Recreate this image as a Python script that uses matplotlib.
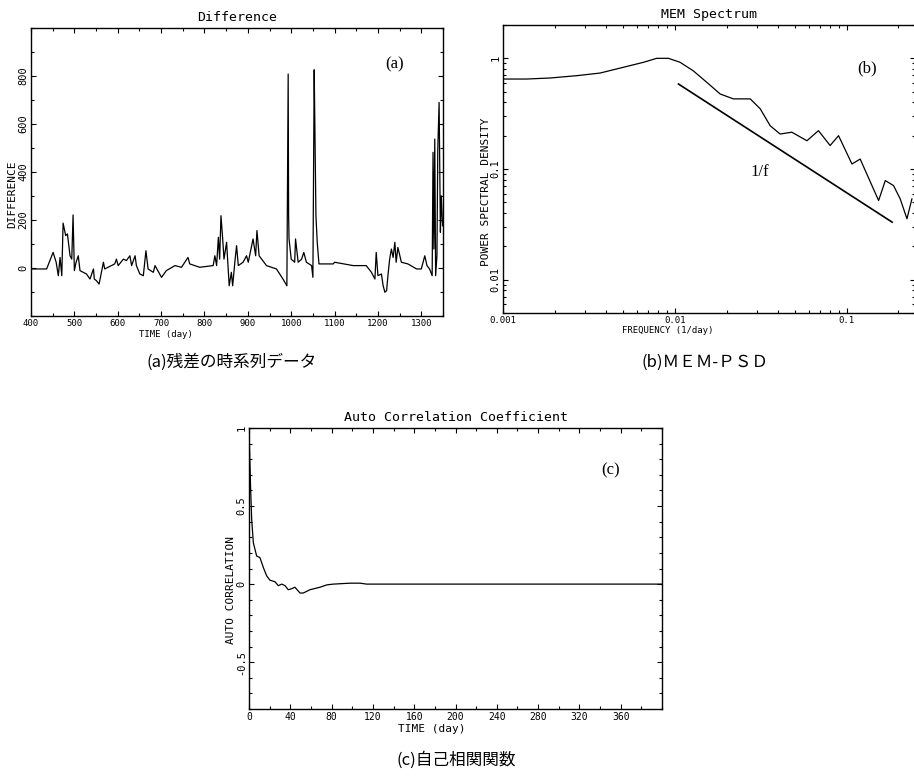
import matplotlib
matplotlib.use('Agg')
import matplotlib.pyplot as plt
from matplotlib.ticker import MultipleLocator, FixedLocator, FixedFormatter, LogLocator, NullFormatter

# ---------------- data ----------------
# (a) residual time series
a_day = [401, 436, 451, 458, 463, 467, 471, 474, 480, 484, 490, 494, 497, 500, 504, 509, 513,
         528, 536, 544, 546, 551, 557, 567, 570, 593, 597, 601, 613, 620, 628, 632, 640, 643,
         651, 659, 665, 670, 682, 686, 701, 712, 732, 747, 762, 766, 789, 820, 824, 828, 832,
         835, 838, 842, 845, 851, 857, 862, 865, 870, 874, 878, 889, 897, 901, 912, 918, 921,
         926, 943, 966, 981, 990, 993, 994, 995, 1000, 1008, 1010, 1016, 1024, 1029, 1035,
         1047, 1050, 1053, 1054, 1057, 1060, 1064, 1097, 1100, 1143, 1173, 1185, 1193, 1196,
         1200, 1208, 1212, 1216, 1220, 1223, 1227, 1231, 1235, 1239, 1242, 1246, 1254, 1269,
         1289, 1300, 1308, 1313, 1319, 1325, 1327, 1329, 1331, 1333, 1336, 1338, 1341, 1344,
         1346, 1349]
a_val = [-4, -4, 65, 24, -32, 44, -32, 187, 135, 142, 51, 37, 221, -11, 24, 51, -11,
         -25, -46, -4, -46, -53, -67, 24, -4, 17, 37, 10, 37, 31, 51, 10, 51, 10,
         -25, -32, 72, -4, -18, 10, -39, -11, 10, 3, 44, 17, 3, 10, 51, 10, 128,
         37, 218, 121, 37, 107, -74, -18, -74, 24, 93, 10, 24, 51, 24, 121, 51, 156,
         51, 10, -4, -46, -74, 808, 218, 121, 37, 24, 121, 24, 37, 65, 24,
         10, -39, 826, 676, 218, 107, 17, 17, 24, 10, 10, -18, -46, 65,
         -32, -25, -74, -101, -94, -32, 37, 79, 44, 107, 24, 86, 24, 17,
         -4, -4, 51, 10, -4, -32, 482, 79, 537, -32, 51, 496, 690, 149,
         301, 176]

# (b) MEM power spectral density
b_freq = [0.00102, 0.00137, 0.00188, 0.00269, 0.00367, 0.00502, 0.00656, 0.00785, 0.00918,
          0.01074, 0.01282, 0.01535, 0.01837, 0.02193, 0.02748, 0.03141, 0.03589, 0.04102,
          0.04797, 0.05875, 0.06855, 0.08017, 0.08974, 0.1074, 0.1199, 0.1535, 0.1679,
          0.1875, 0.2051, 0.2244, 0.2399]
b_psd = [0.65, 0.65, 0.664, 0.697, 0.736, 0.83, 0.92, 1.0, 1.0,
         0.92, 0.77, 0.607, 0.476, 0.43, 0.43, 0.35, 0.246, 0.207,
         0.215, 0.18, 0.222, 0.163, 0.20, 0.111, 0.123, 0.0519, 0.0786,
         0.0708, 0.0537, 0.0355, 0.0537]
# 1/f reference line end points
b_ref_freq = [0.0105, 0.184]
b_ref_psd = [0.586, 0.0331]

# (c) auto-correlation coefficient
c_lag = [0, 1.6, 2.6, 4.2, 7.4, 10.6, 13.9, 17.1, 20.3, 25.2, 28.4, 31.7, 34.9, 38, 41.2,
         44.5, 49.4, 52.6, 59, 68.8, 75.3, 81.6, 97.8, 107.5, 114, 150, 200, 250, 300, 350, 400]
c_acf = [1.0, 0.605, 0.414, 0.265, 0.18, 0.17, 0.106, 0.053, 0.025, 0.015, -0.01, 0.0, -0.01,
         -0.036, -0.03, -0.02, -0.057, -0.057, -0.036, -0.02, -0.005, 0.0, 0.006, 0.006, 0.0,
         0.0, 0.0, 0.0, 0.0, 0.0, 0.0]

a_xticks = [400, 500, 600, 700, 800, 900, 1000, 1100, 1200, 1300]
a_yticks = [0, 200, 400, 600, 800]
b_xticks = [0.001, 0.01, 0.1]
b_xticklabels = ['0.001', '0.01', '0.1']
b_yticks = [0.01, 0.1, 1]
b_yticklabels = ['0.01', '0.1', '1']
c_xticks = [0, 40, 80, 120, 160, 200, 240, 280, 320, 360]
c_yticks = [-0.5, 0, 0.5, 1]
c_yticklabels = ['-0.5', '0', '0.5', '1']

# ---------------- figure ----------------
W, H = 914, 781
fig = plt.figure(figsize=(W / 100, H / 100), dpi=100)
fig.patch.set_facecolor('white')

MONO = 'DejaVu Sans Mono'
SERIF = 'Liberation Serif'
CJK = ['Noto Sans CJK JP', 'DejaVu Sans']


def box(l, t, r, b):
    return [l / W, 1 - b / H, (r - l) / W, (b - t) / H]


def style(ax):
    for s in ax.spines.values():
        s.set_linewidth(1.0)
        s.set_color('black')
    ax.tick_params(which='both', direction='in', top=True, right=True,
                   width=0.8, colors='black', pad=2)
    ax.tick_params(which='major', length=3.5)
    ax.tick_params(which='minor', length=2.5)
    ax.tick_params(axis='y', labelrotation=90)
    for lab in ax.get_yticklabels():
        lab.set_va('center')
    for lab in ax.get_xticklabels() + ax.get_yticklabels():
        lab.set_fontfamily(MONO)


# ---- (a) ----
axa = fig.add_axes(box(31, 28, 443, 316))
axa.plot(a_day, a_val, color='black', lw=0.9)
axa.set_xlim(400, 1350)
axa.set_ylim(-200, 1000)
axa.xaxis.set_major_locator(FixedLocator(a_xticks))
axa.xaxis.set_minor_locator(MultipleLocator(50))
axa.yaxis.set_major_locator(FixedLocator(a_yticks))
axa.yaxis.set_minor_locator(MultipleLocator(100))
axa.tick_params(axis='x', labelsize=6.5)
axa.tick_params(axis='y', labelsize=7.5)
style(axa)
axa.set_title('Difference', fontfamily=MONO, fontsize=9.5, pad=5)
axa.set_xlabel('TIME (day)', fontfamily=MONO, fontsize=6.5, va='center')
axa.xaxis.set_label_coords(0.328, -0.064)
axa.set_ylabel('DIFFERENCE', fontfamily=MONO, fontsize=8, va='center')
axa.yaxis.set_label_coords(-0.046, 0.424)
axa.text(1239, 850, '(a)', fontfamily=SERIF, fontsize=12, ha='center', va='center')

# ---- (b) ----
axb = fig.add_axes(box(503, 25, 915, 313))
axb.set_xscale('log')
axb.set_yscale('log')
axb.plot(b_freq, b_psd, color='black', lw=0.9)
axb.plot(b_ref_freq, b_ref_psd, color='black', lw=1.2)
axb.set_xlim(0.001, 0.25)
axb.set_ylim(0.005, 2)
axb.xaxis.set_major_locator(FixedLocator(b_xticks))
axb.xaxis.set_major_formatter(FixedFormatter(b_xticklabels))
axb.xaxis.set_minor_locator(LogLocator(base=10, subs=range(2, 10)))
axb.xaxis.set_minor_formatter(NullFormatter())
axb.yaxis.set_major_locator(FixedLocator(b_yticks))
axb.yaxis.set_major_formatter(FixedFormatter(b_yticklabels))
axb.yaxis.set_minor_locator(LogLocator(base=10, subs=range(2, 10)))
axb.yaxis.set_minor_formatter(NullFormatter())
axb.tick_params(axis='x', labelsize=6.5)
axb.tick_params(axis='y', labelsize=7.5)
style(axb)
axb.set_title('MEM Spectrum', fontfamily=MONO, fontsize=9.5, pad=5)
axb.set_xlabel('FREQUENCY (1/day)', fontfamily=MONO, fontsize=6.5, va='center')
axb.xaxis.set_label_coords(0.40, -0.062)
axb.set_ylabel('POWER SPECTRAL DENSITY', fontfamily=MONO, fontsize=8, va='center')
axb.yaxis.set_label_coords(-0.041, 0.42)
axb.text(0.0314, 0.0935, '1/f', fontfamily=SERIF, fontsize=12, ha='center', va='center')
axb.text(0.131, 0.81, '(b)', fontfamily=SERIF, fontsize=12, ha='center', va='center')

# ---- (c) ----
axc = fig.add_axes(box(249, 428, 662, 709))
axc.plot(c_lag, c_acf, color='black', lw=0.9)
axc.set_xlim(0, 400)
axc.set_ylim(-0.8, 1)
axc.xaxis.set_major_locator(FixedLocator(c_xticks))
axc.xaxis.set_minor_locator(MultipleLocator(20))
axc.yaxis.set_major_locator(FixedLocator(c_yticks))
axc.yaxis.set_major_formatter(FixedFormatter(c_yticklabels))
axc.yaxis.set_minor_locator(MultipleLocator(0.1))
axc.tick_params(axis='x', labelsize=7)
axc.tick_params(axis='y', labelsize=7.5)
style(axc)
axc.set_title('Auto Correlation Coefficient', fontfamily=MONO, fontsize=9.5, pad=5)
axc.set_xlabel('TIME (day)', fontfamily=MONO, fontsize=8, va='center')
axc.xaxis.set_label_coords(0.443, -0.072)
axc.set_ylabel('AUTO CORRELATION', fontfamily=MONO, fontsize=8, va='center')
axc.yaxis.set_label_coords(-0.043, 0.423)
axc.text(350, 0.73, '(c)', fontfamily=SERIF, fontsize=12, ha='center', va='center')

# ---- captions ----
fig.text(232 / W, 1 - 362 / H, '(a)残差の時系列データ', family=CJK, fontsize=12,
         ha='center', va='center')
fig.text(705 / W, 1 - 362 / H, '(b)ＭＥＭ-ＰＳＤ', family=CJK, fontsize=12,
         ha='center', va='center')
fig.text(456 / W, 1 - 760 / H, '(c)自己相関関数', family=CJK, fontsize=12,
         ha='center', va='center')

fig.savefig('out.png', dpi=100, facecolor='white')
